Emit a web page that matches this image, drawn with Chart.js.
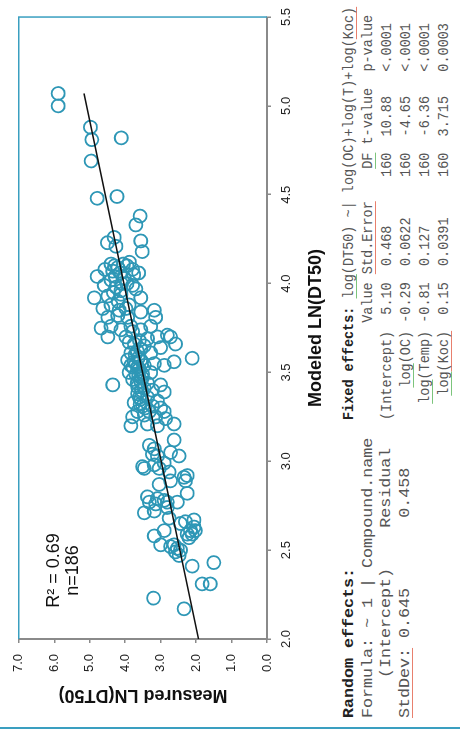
<!DOCTYPE html>
<html>
<head>
<meta charset="utf-8">
<script src="https://cdn.jsdelivr.net/npm/chart.js@4.4.0/dist/chart.umd.min.js"></script>
<style>
  html, body { margin: 0; padding: 0; background: #fff; }
  body { width: 460px; height: 735px; overflow: hidden; position: relative; }
  /* the whole figure is laid out sideways and turned a quarter left */
  #wrap { position: absolute; left: 0; top: 0; width: 735px; height: 460px;
          transform-origin: 0 0; transform: translateY(735px) rotate(-90deg); }
  #myChart { position: absolute; left: 0; top: 0; }
  #rule { position: absolute; left: 6px; top: 0; width: 2px; height: 460px; background: #3a9fc0; }
  .stats { position: absolute; top: 340px; margin: 0; white-space: pre; color: #555;
           font-family: "Liberation Mono", "Courier New", monospace; font-size: 14.5px; line-height: 19px;
           transform-origin: 0 0; }
  .stats b { color: #222; }
  #fixed { left: 315px; transform: scaleX(0.931); }
  #random { left: 17px; transform: scaleX(1.15); line-height: 18.5px; }
  .r { text-decoration: underline; text-decoration-color: #e8806e; text-underline-offset: 3px; }
  .g { text-decoration: underline; text-decoration-color: #7cc47c; text-underline-offset: 3px; }
</style>
</head>
<body>
<div id="wrap">
  <canvas id="myChart" width="735" height="335"></canvas>
  <div id="rule"></div>
<pre class="stats" id="random"><b>Random effects:</b>
Formula: ~ 1 | Compound.name
    (Intercept)    Residual
<span class="r">StdDev:</span> 0.645       0.458</pre>
<pre class="stats" id="fixed"><b>Fixed effects:</b> <span class="g">log</span>(DT50) ~| log(OC)+log(T)+log(<span class="r">Koc)</span>
            Value <span class="r">Std.Error</span>    <span class="g">DF</span> t-value  p-value
(Intercept)  5.10  0.468      160  10.88   &lt;.0001
    <span class="g">log</span>(OC) -0.29  0.0622     160  -4.65   &lt;.0001
  <span class="g">log</span>(Temp) -0.81  0.127      160  -6.36   &lt;.0001
   <span class="g">log</span><span class="r">(Koc)</span>  0.15  0.0391     160  3.715   0.0003</pre>
</div>
<script>
// modeled (x) vs measured (y), LN(DT50)
const modeled = [
  5.07, 5.00, 4.88, 4.81, 4.82, 4.69, 4.48, 4.49, 4.38, 4.33, 4.26, 4.23, 4.24, 4.18, 4.21,
  4.11, 4.09, 4.12, 4.08, 4.05, 4.08, 4.07, 4.04, 3.99, 3.98, 3.99, 3.92, 3.93, 3.94, 3.92, 3.96,
  4.10, 4.11, 4.06, 4.10, 4.03, 4.02, 4.06, 4.00, 3.95, 3.97,
  3.86, 3.88, 3.85, 3.88, 3.84, 3.85, 3.81, 3.81, 3.82, 3.81, 3.75, 3.76, 3.74, 3.76, 3.74, 3.76,
  3.70, 3.70, 3.67, 3.69, 3.70, 3.71, 3.70, 3.73, 3.65,
  3.66, 3.58, 3.56, 3.64, 3.61, 3.63, 3.61, 3.57, 3.56, 3.57, 3.54, 3.53, 3.54, 3.55, 3.54,
  3.50, 3.49, 3.49, 3.50, 3.46, 3.45, 3.44, 3.43, 3.43, 3.42,
  3.41, 3.40, 3.39, 3.38, 3.35, 3.36, 3.34, 3.33, 3.31, 3.31, 3.28, 3.30, 3.28, 3.28, 3.25,
  3.26, 3.25, 3.24, 3.20, 3.20, 3.21, 3.21,
  3.09, 3.07, 3.03, 3.12, 3.05, 3.03, 3.04, 2.97, 2.96, 2.98, 2.96, 2.99,
  2.94, 2.87, 2.91, 2.89, 2.92, 2.89, 2.82, 2.80, 2.77, 2.79, 2.78, 2.77, 2.77, 2.76,
  2.71, 2.72, 2.74, 2.68, 2.65, 2.66, 2.67, 2.61, 2.61, 2.59, 2.61, 2.59, 2.63, 2.57, 2.58,
  2.53, 2.52, 2.53, 2.51, 2.50, 2.49, 2.47,
  2.41, 2.43, 2.31, 2.31, 2.23, 2.17,
  3.55, 3.52, 3.48, 3.47, 3.58, 3.60, 3.62, 3.53, 3.44, 3.40, 3.36, 3.32, 3.30, 3.66, 3.68,
  3.86, 3.90, 4.00, 4.04
];
const measured = [
  5.89, 5.89, 4.98, 4.94, 4.11, 4.96, 4.79, 4.23, 3.58, 3.70, 4.31, 4.50, 3.56, 3.52, 4.26,
  4.40, 4.21, 3.88, 3.79, 3.76, 4.57, 4.35, 4.79, 4.59, 4.26, 3.79, 4.87, 4.49, 4.12, 3.56, 4.12,
  4.30, 4.05, 4.14, 3.95, 4.02, 4.40, 3.62, 3.95, 4.33, 3.70,
  4.63, 4.40, 4.17, 3.89, 3.56, 3.18, 3.14, 4.49, 4.21, 3.93, 4.68, 4.40, 4.12, 3.84, 3.56, 3.28,
  4.49, 3.98, 3.89, 3.37, 3.09, 2.81, 2.72, 3.79, 3.46,
  2.58, 2.11, 2.62, 3.00, 3.28, 3.56, 3.84, 3.93, 3.75, 3.56, 3.84, 3.65, 3.46, 3.18, 2.90,
  3.89, 3.70, 3.51, 3.28, 3.79, 3.56, 3.37, 3.00, 4.35, 3.65,
  3.46, 3.23, 2.90, 3.65, 3.56, 3.37, 3.09, 3.75, 3.51, 3.23, 3.65, 3.00, 3.32, 2.90, 3.79,
  3.46, 3.14, 2.86, 3.84, 3.09, 2.62, 3.37,
  3.32, 3.18, 3.09, 2.62, 2.72, 2.48, 3.23, 3.51, 3.46, 3.18, 3.04, 2.90,
  2.76, 3.04, 2.34, 2.30, 2.25, 2.72, 2.25, 3.37, 3.32, 3.09, 2.90, 2.81, 2.53, 3.14,
  3.46, 3.18, 2.81, 2.76, 2.44, 2.30, 2.06, 2.90, 2.16, 2.25, 2.02, 2.11, 2.06, 2.20, 3.18,
  3.00, 2.72, 2.62, 2.53, 2.44, 2.58, 2.48,
  2.11, 1.50, 1.83, 1.60, 3.20, 2.34,
  3.70, 3.60, 3.62, 3.52, 3.64, 3.72, 3.66, 3.78, 3.66, 3.54, 3.60, 3.58, 3.44, 3.74, 3.60,
  3.98, 4.20, 4.10, 4.28
];
// fitted line ends
const fitX = [2.0, 5.07];
const fitY = [1.93, 5.16];
const statLines = ['R\u00b2 = 0.69', 'n=186'];

const pointBlue = '#2e97b6';
const frameBlue = '#3a9fc0';
const axisGrey = '#8a8a8a';
const sans = '"Liberation Sans", Arial, sans-serif';

let notes = {
  id: 'notes',
  afterDraw(chart) {
    const { ctx, chartArea: a, scales: { x, y } } = chart;
    ctx.save();
    ctx.strokeStyle = frameBlue;
    ctx.lineWidth = 1.5;
    ctx.beginPath();
    ctx.moveTo(a.left, a.top);
    ctx.lineTo(a.right, a.top);
    ctx.lineTo(a.right, a.bottom);
    ctx.stroke();
    ctx.fillStyle = '#111';
    ctx.font = '18px ' + sans;
    ctx.textAlign = 'center';
    ctx.textBaseline = 'middle';
    ctx.fillText(statLines[0], x.getPixelForValue(2.385), y.getPixelForValue(6.02));
    ctx.fillText(statLines[1], x.getPixelForValue(2.385), y.getPixelForValue(5.46));
    ctx.restore();
  }
};

let ctx = document.getElementById('myChart').getContext('2d');
let chart = new Chart(ctx, {
  type: 'scatter',
  data: {
    datasets: [{
      type: 'line',
      data: fitX.map((v, i) => ({ x: v, y: fitY[i] })),
      borderColor: '#111',
      borderWidth: 1.5,
      pointRadius: 0,
      fill: false,
      order: 0
    }, {
      data: modeled.map((v, i) => ({ x: v, y: measured[i] })),
      pointStyle: 'circle',
      pointRadius: 6.5,
      borderWidth: 1.8,
      borderColor: pointBlue,
      backgroundColor: 'rgba(0,0,0,0)',
      order: 1
    }]
  },
  options: {
    responsive: false,
    devicePixelRatio: 1,
    animation: false,
    events: [],
    layout: { padding: { left: 25, right: 11, top: 17, bottom: 4 } },
    plugins: { legend: { display: false }, tooltip: { enabled: false } },
    scales: {
      x: {
        type: 'linear', min: 2, max: 5.5,
        afterFit: s => { s.height = 64; },
        border: { display: true, color: axisGrey, width: 2 },
        grid: { drawOnChartArea: false, drawTicks: true, tickLength: 4, color: axisGrey, lineWidth: 1.5 },
        ticks: { stepSize: 0.5, padding: 8, color: '#222', font: { family: sans, size: 13 },
                 callback: v => v.toFixed(1) },
        title: { display: true, text: 'Modeled LN(DT50)', color: '#111', padding: { top: 0, bottom: 4 },
                 font: { family: sans, size: 18, weight: 'bold' } }
      },
      y: {
        type: 'linear', min: 0, max: 7,
        afterFit: s => { s.width = 71; },
        border: { display: true, color: axisGrey, width: 2 },
        grid: { drawOnChartArea: false, drawTicks: true, tickLength: 4, color: axisGrey, lineWidth: 1.5 },
        ticks: { stepSize: 1, padding: 11, color: '#222', font: { family: sans, size: 13 },
                 callback: v => v.toFixed(1) },
        title: { display: true, text: 'Measured LN(DT50)', color: '#111', padding: { top: 4, bottom: 0 },
                 font: { family: sans, size: 18, weight: 'bold' } }
      }
    }
  },
  plugins: [notes]
});
</script>
</body>
</html>
